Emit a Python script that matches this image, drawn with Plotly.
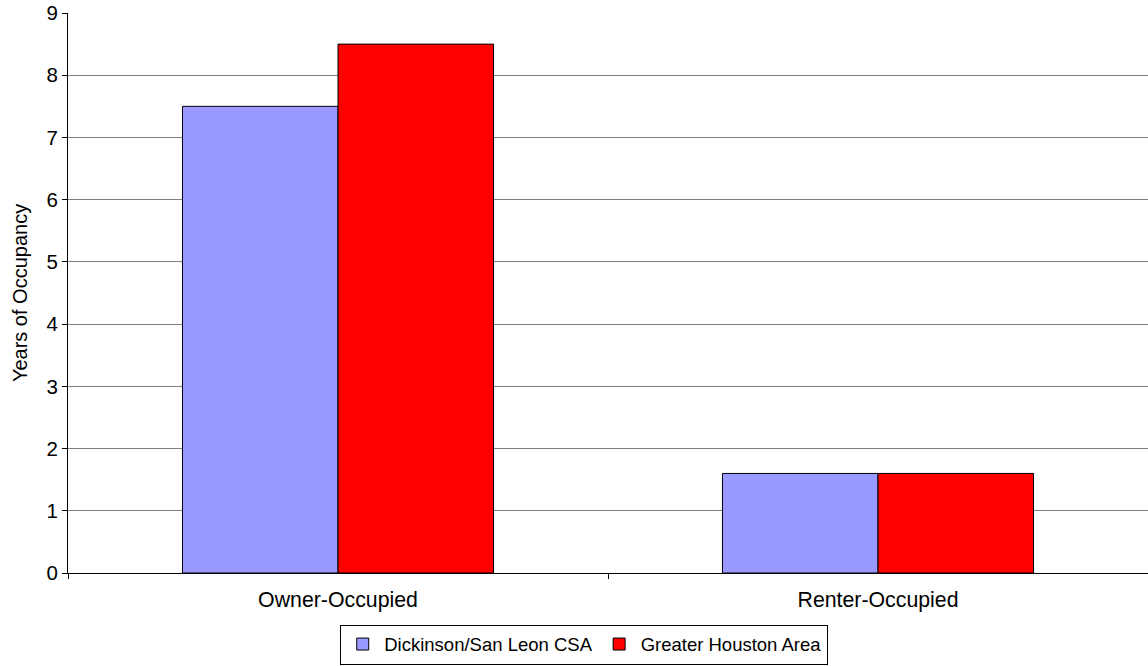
import plotly.graph_objects as go

categories = ["Owner-Occupied", "Renter-Occupied"]
dickinson = [7.5, 1.6]
houston = [8.5, 1.6]
series_names = ["Dickinson/San Leon CSA", "Greater Houston Area"]
y_ticks = [0, 1, 2, 3, 4, 5, 6, 7, 8, 9]

fig = go.Figure()
fig.add_trace(go.Bar(x=categories, y=dickinson, name=series_names[0],
                     marker=dict(color="#9999FF", line=dict(color="black", width=1))))
fig.add_trace(go.Bar(x=categories, y=houston, name=series_names[1],
                     marker=dict(color="#FF0000", line=dict(color="black", width=1))))

fig.update_layout(
    width=1148, height=666,
    margin=dict(l=68, r=0, t=13, b=93),
    paper_bgcolor="white", plot_bgcolor="white",
    barmode="group", bargap=0.424, bargroupgap=0,
    font=dict(family="Liberation Sans, Arial, sans-serif", size=20, color="black"),
    legend=dict(orientation="h", x=0.478, xanchor="center", y=-0.092, yanchor="top",
                bordercolor="black", borderwidth=1, font=dict(size=18.5),
                itemwidth=33, tracegroupgap=0),
    showlegend=True,
)
fig.update_yaxes(range=[0, 9], tickvals=y_ticks, showgrid=True, gridcolor="#808080", gridwidth=1,
                 showline=True, linecolor="black", linewidth=1, ticks="outside", ticklen=5,
                 tickcolor="black", zeroline=False, tickfont=dict(size=20.5),
                 title=dict(text="Years of Occupancy", font=dict(size=20), standoff=13))
fig.update_xaxes(showline=True, linecolor="black", linewidth=1, ticks="outside", ticklen=5,
                 tickcolor="black", tickson="boundaries", showgrid=False,
                 tickfont=dict(size=21.3), ticklabelstandoff=7)

fig.write_html("out.html", config={"displayModeBar": False},
               post_script="document.body.style.margin='0';document.body.style.overflow='hidden';")
